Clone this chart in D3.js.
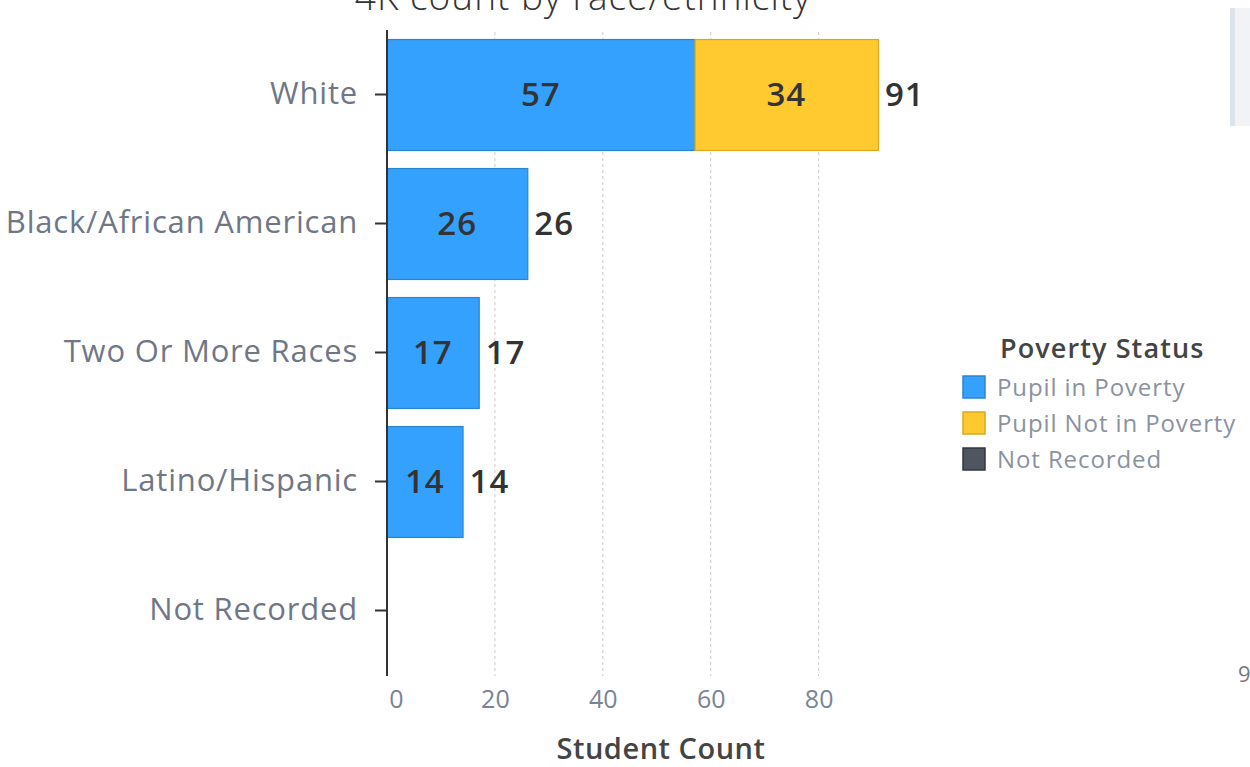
<!DOCTYPE html>
<html>
<head>
<meta charset="utf-8">
<script src="https://cdn.jsdelivr.net/npm/d3@7"></script>
<style>
  body { margin: 0; background: #fff; overflow: hidden; }
  text { font-family: "Open Sans", Lato, sans-serif; }
</style>
</head>
<body>
<script>
const categories = ["White", "Black/African American", "Two Or More Races", "Latino/Hispanic", "Not Recorded"];
const seriesNames = ["Pupil in Poverty", "Pupil Not in Poverty", "Not Recorded"];
const inPoverty = [57, 26, 17, 14, 0];
const notInPoverty = [34, 0, 0, 0, 0];
const notRecorded = [0, 0, 0, 0, 0];
const xTicks = [0, 20, 40, 60, 80];
const colors = ["#33a1fd", "#ffc930", "#4f5662"];
const strokes = ["#2a85d0", "#d9a820", "#33373d"];

const W = 1250, H = 767;
const svg = d3.select("body").append("svg").attr("width", W).attr("height", H);

const x = d3.scaleLinear().domain([0, 91]).range([387, 878]);
const y = d3.scaleBand().domain(categories).range([30, 675]).paddingInner(0.14).paddingOuter(0.07);

const rows = categories.map((c, i) => ({
  cat: c,
  vals: [inPoverty[i], notInPoverty[i], notRecorded[i]]
}));
const stack = d3.stack().keys([0, 1, 2]).value((d, k) => d.vals[k])(rows);

// title (cut off at top, as in the source)
svg.append("text")
  .attr("x", 583).attr("y", 10)
  .attr("text-anchor", "middle")
  .attr("font-size", 37).attr("font-weight", 300).attr("fill", "#333")
  .attr("letter-spacing", 1)
  .text("4K count by race/ethnicity");

// grid
svg.append("g")
  .selectAll("line")
  .data(xTicks.slice(1))
  .join("line")
  .attr("x1", d => x(d)).attr("x2", d => x(d))
  .attr("y1", 32).attr("y2", 676)
  .attr("stroke", "#c8c8c8")
  .attr("stroke-dasharray", "3,3");

// bars
svg.append("g")
  .selectAll("g")
  .data(stack)
  .join("g")
  .call(g => {
    g.selectAll("rect")
      .data((s, k) => s.map(d => ({ d, k })))
      .join("rect")
      .filter(o => o.d[1] - o.d[0] > 0)
      .attr("x", o => x(o.d[0]) + 0.5)
      .attr("y", o => y(o.d.data.cat) + 0.5)
      .attr("width", o => x(o.d[1]) - x(o.d[0]))
      .attr("height", y.bandwidth())
      .attr("fill", o => colors[o.k])
      .attr("stroke", o => strokes[o.k])
      .attr("stroke-width", 1.2);
  });

// segment labels
stack.forEach((s, k) => {
  svg.append("g")
    .selectAll("text")
    .data(s.filter(d => d[1] - d[0] > 0))
    .join("text")
    .attr("x", d => (x(d[0]) + x(d[1])) / 2)
    .attr("y", d => y(d.data.cat) + y.bandwidth() / 2)
    .attr("dy", "0.36em")
    .attr("text-anchor", "middle")
    .attr("font-size", 33).attr("font-weight", 600)
    .attr("letter-spacing", 1)
    .attr("fill", "#333")
    .text(d => d[1] - d[0]);
});

// totals
svg.append("g")
  .selectAll("text")
  .data(rows.filter(r => d3.sum(r.vals) > 0))
  .join("text")
  .attr("x", r => x(d3.sum(r.vals)) + 7)
  .attr("y", r => y(r.cat) + y.bandwidth() / 2)
  .attr("dy", "0.36em")
  .attr("font-size", 33).attr("font-weight", 600)
  .attr("letter-spacing", 1)
  .attr("fill", "#333")
  .text(r => d3.sum(r.vals));

// y axis
const yAxis = svg.append("g")
  .attr("transform", "translate(387,0)")
  .call(d3.axisLeft(y).tickSize(12).tickPadding(17).tickSizeOuter(0));
yAxis.select(".domain").attr("stroke", "#333").attr("stroke-width", 2)
  .attr("d", "M0,30V676");
yAxis.selectAll(".tick line").attr("stroke", "#333").attr("stroke-width", 2);
yAxis.selectAll(".tick text")
  .attr("font-size", 31).attr("fill", "#6f7787")
  .attr("letter-spacing", 0.8)
  .attr("font-family", "'Open Sans', sans-serif");

// x axis
const xAxis = svg.append("g")
  .attr("transform", "translate(0,676)")
  .call(d3.axisBottom(x).tickValues(xTicks).tickSize(0).tickPadding(14));
xAxis.select(".domain").remove();
xAxis.selectAll(".tick text")
  .attr("font-size", 25).attr("fill", "#7a8393")
  .attr("font-family", "'Open Sans', sans-serif")
  .attr("dx", (d, i) => i === 0 ? 9 : 0);

svg.append("text")
  .attr("x", 661).attr("y", 759)
  .attr("text-anchor", "middle")
  .attr("font-size", 29).attr("font-weight", 600)
  .attr("letter-spacing", 0.5)
  .attr("fill", "#444")
  .text("Student Count");

// legend
const legend = svg.append("g").attr("transform", "translate(963,0)");
legend.append("text")
  .attr("x", 37).attr("y", 358)
  .attr("font-size", 27).attr("font-weight", 600).attr("fill", "#444")
  .attr("letter-spacing", 1.1)
  .text("Poverty Status");
legend.selectAll("g")
  .data(seriesNames)
  .join("g")
  .attr("transform", (d, i) => `translate(0, ${376 + i * 36})`)
  .call(g => {
    g.append("rect")
      .attr("width", 22).attr("height", 22)
      .attr("fill", (d, i) => colors[i])
      .attr("stroke", (d, i) => strokes[i]).attr("stroke-width", 1.5);
    g.append("text")
      .attr("x", 34).attr("y", 11).attr("dy", "0.36em")
      .attr("font-size", 24).attr("fill", "#8a92a0")
      .attr("letter-spacing", 0.9)
      .text(d => d);
  });

// edge artifacts from the source screenshot
svg.append("rect").attr("x", 1230).attr("y", 8).attr("width", 5).attr("height", 118).attr("fill", "#dde3ea");
svg.append("rect").attr("x", 1235).attr("y", 8).attr("width", 15).attr("height", 118).attr("fill", "#f1f3f6");
svg.append("text").attr("x", 1238).attr("y", 682).attr("font-size", 22).attr("fill", "#777").text("9");
</script>
</body>
</html>
